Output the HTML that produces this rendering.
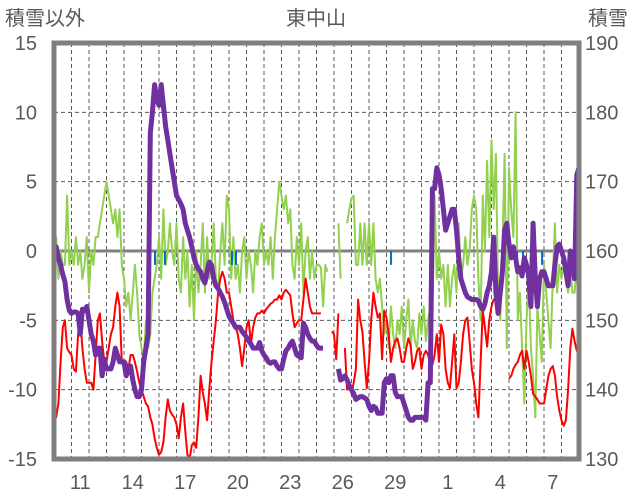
<!DOCTYPE html>
<html><head><meta charset="utf-8">
<style>
html,body{margin:0;padding:0;background:#fff;}
svg{display:block;font-family:"Liberation Sans","Noto Sans CJK JP",sans-serif;}
</style></head>
<body>
<svg id="chart" width="636" height="501" viewBox="0 0 636 501" xmlns="http://www.w3.org/2000/svg">
<text x="5" y="25" font-size="20" fill="#595959">積雪以外</text>
<text x="316" y="25" font-size="20" fill="#595959" text-anchor="middle">東中山</text>
<text x="588" y="25" font-size="20" fill="#595959">積雪</text>
<g id="grid"></g>
<g id="series"></g>
<g id="axes"></g>
</svg>
<script>
const dayLabels = ["11","14","17","20","23","26","29","1","4","7"];
const dayLabelIdx = [1,4,7,10,13,16,19,22,25,28];
const leftTicks = [15,10,5,0,-5,-10,-15];
const rightTicks = [190,180,170,160,150,140,130];
const samplesPerDay = 8;
const numDays = 30;
const green = [
-1,1,-2,0,-1,-1,4,-1, 0,-1,1,-1,0,-2,-1,1, -3,0,-1,1,1,2,3,4, 5,4,3,2,3,1,3,-1,
-2,-4,-3,-5,-3,-1,-3,-6, -7,-8,-5,-7,-6,-3,-2,-1, 1,-2,3,-1,0,2,0,-1, 2,-2,-3,1,-2,0,-4,-1,
-5,0,-3,-1,2,-3,1,-2, -1,2,-2,-3,0,2,-1,4, 3,-2,1,-2,-1,-3,0,1, -2,0,-1,-3,0,-1,1,2,
-1,0,-1,1,-2,1,3,5, 4,3,4,2,3,-1,-2,1, -1,2,-3,0,1,-2,0,-2, -1,-1,-1.2,-4,-1,-1.5,null,null,
null,null,2,-2,null,null,2,3, 3.8,4,-1,-1,2,-1,2,-1, 2,-1,2,-2,-3,-2,-4,-6, -5,-7,-4,-6,-7,-5,-6,-4,
-7,-5,-3.5,-7,-5,-6.5,-7,-4.5, -6,-4,-6.5,-5,-4,-5,4,-2, 0,-2,-1,-4,-1,-4,-2,-1, -3,2,-2,-1,1,-1,0,3,
4,3,-2,-5,4,0,6.5,1, 8,3,7,-3,-5,0,7,-7, 6,3,1,10,-5,-3,-7,-11, -5,-2,-7,-9,-12,-4,-6,-8,
-1,-3,-5,-7,-2,2,-3,-1, -2,-1,-2,-3,-1,-3,-3,-1,-1];
const red = [
-11.5,-12,-11,-8,-5.5,-5,-7,-7.3, -7.5,-8.5,-8.7,-6,-5,-7,-8.5,-9.5, -9.5,-9.5,-10,-7.5,-5,-4.5,-6.5,-8, -8,-7,-6,-5.5,-4,-3,-4,-8,
-8.3,-8,-8.5,-7.5,-7.5,-8,-8.7,-9.5, -10,-10.5,-11,-11.2,-12,-12.5,-13.5,-14.2, -14.7,-14.5,-13.8,-12,-10.7,-11.5,-11.8,-12, -12.5,-13.5,-12,-11,-13,-14.7,-15,-14,
-13.8,-14.2,-12,-9,-10.2,-11,-12.2,-10, -8,-6.5,-5,-3,-2,-1.5,-2,-3, -3,-4,-5,-5.5,-6,-7,-8.3,-7, -5.5,-5,-6.7,-5.5,-4.8,-4.5,-4.5,-4.3,
-4.5,-4.2,-4,-3.8,-3.7,-3.5,-3.5,-3.2, -3.5,-3,-2.8,-3,-3.2,-4.5,-5.5,-5.2, -5,-5,-3.5,-2,-3,-4,-4.5,-4.5, -4.5,-4.5,-4.5,null,null,null,null,-5.8,
-6,-7.8,-4.5,null,null,-7,-10,-9.5, -10.3,-9.5,-8.5,-3.5,-5,-5.8,-8,-9.9, -8,-5,-3,-4,-4.8,-4.5,-7.8,-4.3, -4.8,-6,-8,-7,-6.5,-6.3,-7,-8,
-8,-7,-6.3,-6.8,-8.5,-8,-7.2,-7, -8.5,-7.5,-7.2,-7.5,-8.2,-8.2,-7.5,-6, -8,-5.3,-6,-8.5,-9.5,-9.9,-8,-6, -9.9,-9.5,-8,-6,-5,-4.8,-6.5,-8.5,
-9.5,-11,-12,-8,-4.3,-5.5,-6.9,-5, -4,-3.5,-3.5,null,null,null,null,null, -9.2,-9,-8.5,-8.2,-8,-7.5,-7.2,-8.5, -7.2,-8,-9,-10.3,-10.5,-10.7,-11,-11,
-11,-10,-9,-8.5,-8.3,-9,-10.5,-11.5, -12.2,-12.6,-12.2,-10,-7,-5.6,-6.5,-7.2,-7.3];
const snow = [
159,160.6,159,158,156.6,155.6,153,151.4, 151,151.2,151.2,151,148,151.6,151.4,152, 150,148,147,145,146,146,142,144.4, 143,143,143,144,146,145,144,144,
144,142,143,143.4,141.4,140,139,139, 140,144,146,148,177,180,184,182, 181,184,181,178,176,174,172,170, 168,167.4,166.8,166,164,163,162,160.6,
159,158,157.4,157,156,155.4,157,158.4, 158,156,155,154.6,154,153.4,152.6,151.6, 150.6,150,149.6,149,149,149,148.4,148, 147.6,147,146.6,146,146,146,146.8,145.6,
145,144.6,144,143.8,144,144,143.4,143, 143,144.4,145.6,146,146.6,147,146,145, 144.8,144.6,149.6,149,148,147.4,147,147, 146.4,146,146,146,null,144.6,null,null,
null,null,143,141.4,141.6,142,141.4,140.6, 140,139.4,138.6,138.8,139,139,138.8,138.6, 137.6,137,137.6,137.4,136.6,136.6,136.6,141, 141.6,141,142,142,139.6,139,139,139,
138,137,136,135.6,135.6,136,136,136, 136,136,135.6,141,141,169,169,172, 171,169,166,163,164,165,166,166, 163,159,156,155,154,153.4,153.2,153,
153,153,152.8,152,151.6,152.4,154,155, 157,162,154,151,154,157,163,164, 161,159,160.6,159,157,157.6,156.4,159, 158,156.4,152,164,156,152,156,157,
157,156,155,155,155,158,160.6,161, 160,159,157,155,160,158,156,171,172];
const precipDays = [5.77,6.34,10.17,10.4,19.26,26.46,26.8,27.89,29.94];
const precipVals = [-1,-1,-1,-1,-1,-1.2,-1.2,-1,-1.3];

const NS="http://www.w3.org/2000/svg";
const X0=54, X1=579, Y0=43, Y1=459;
const xs = d => X0 + d/numDays*(X1-X0);
const yL = v => Y1 - (v+15)/30*(Y1-Y0);
const yR = v => Y1 - (v-130)/60*(Y1-Y0);
function mk(tag, attrs, parent){const e=document.createElementNS(NS,tag);for(const k in attrs)e.setAttribute(k,attrs[k]);parent.appendChild(e);return e;}
const grid=document.getElementById('grid'), series=document.getElementById('series'), axes=document.getElementById('axes');

for(let k=1;k<numDays;k++){
  const l=mk('line',{x1:xs(k),x2:xs(k),y1:Y0,y2:Y1,stroke:'#595959','stroke-width':1,'stroke-dasharray':'4,3'},grid);
  
  
}
leftTicks.forEach(v=>{
  if(v===15||v===-15) return;
  const l=mk('line',{x1:X0,x2:X1,y1:yL(v),y2:yL(v),stroke:v===0?'#808080':'#595959','stroke-width':v===0?3:1,'stroke-dasharray':v===0?'none':'4,3'},grid);
  
  
});

function pathFrom(vals, yf){
  let d='', pen=false;
  vals.forEach((v,i)=>{
    if(v===null){pen=false;return;}
    const x=xs(i/samplesPerDay), y=yf(v);
    d+=(pen?'L':'M')+x.toFixed(1)+','+y.toFixed(1);
    pen=true;
  });
  return d;
}
const g=mk('path',{d:pathFrom(green,yL),fill:'none',stroke:'#92d050','stroke-width':2,'stroke-linejoin':'round'},series);


const r=mk('path',{d:pathFrom(red,yL),fill:'none',stroke:'#ff0000','stroke-width':2,'stroke-linejoin':'round'},series);


precipDays.forEach((d,i)=>{
  const b=mk('line',{x1:xs(d),x2:xs(d),y1:yL(0),y2:yL(precipVals[i]),stroke:'#0070c0','stroke-width':2},series);
  
  
});
const p=mk('path',{d:pathFrom(snow,yR),fill:'none',stroke:'#7030a0','stroke-width':5,'stroke-linejoin':'round'},series);



const fr=mk('rect',{x:X0,y:Y0,width:X1-X0,height:Y1-Y0,fill:'none',stroke:'#7f7f7f','stroke-width':5},axes);


leftTicks.forEach(v=>{
  const t=mk('text',{x:37,y:yL(v)+7,'font-size':20,fill:'#595959','text-anchor':'end'},axes);
  t.textContent=v;
  
  
});
rightTicks.forEach(v=>{
  const t=mk('text',{x:585,y:yR(v)+7,'font-size':20,fill:'#595959'},axes);
  t.textContent=v;
  
  
});
dayLabels.forEach((s,i)=>{
  const t=mk('text',{x:xs(dayLabelIdx[i]+0.5),y:489,'font-size':20,fill:'#595959','text-anchor':'middle'},axes);
  t.textContent=s;
  
  
});
</script>
</body></html>
